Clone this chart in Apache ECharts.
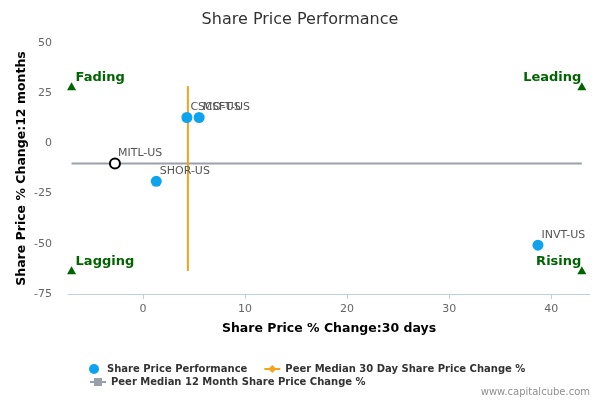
<!DOCTYPE html>
<html>
<head>
<meta charset="utf-8">
<script src="https://cdn.jsdelivr.net/npm/echarts@6/dist/echarts.min.js"></script>
<style>
  html, body { margin: 0; padding: 0; background: #fff; }
  #chart { width: 600px; height: 400px; }
</style>
</head>
<body>
<div id="chart"></div>
<script>
// peers (share price change, %)
var tickers = ['CSCO-US', 'MSFT-US', 'SHOR-US', 'INVT-US'];
var change30d = [4.3, 5.5, 1.3, 38.7];
var change12m = [12.9, 12.9, -18.9, -50.7];

// the company itself
var subjectName = 'MITL-US';
var subject30d = -2.75;
var subject12m = -10;

// peer medians
var median30d = 4.4;
var median30dSpan = [-63.5, 28.5];
var median12m = -10;
var median12mSpan = [-7, 43];

// quadrant markers
var quadrantNames = ['Fading', 'Leading', 'Lagging', 'Rising'];
var quadrantX = [-7, 43, -7, 43];
var quadrantY = [28.4, 28.4, -63.2, -63.2];

var xTicks = [0, 10, 20, 30, 40];

var font = 'DejaVu Sans';
var blue = '#0ea3ee';
var orange = '#f7a21b';
var grey = '#9aa0aa';
var green = '#006400';

var perfData = [];
for (var i = 0; i < tickers.length; i++) {
	perfData.push({ value: [change30d[i], change12m[i]], name: tickers[i] });
}
perfData.push({
	value: [subject30d, subject12m],
	name: subjectName,
	itemStyle: { color: '#fff', borderColor: '#000', borderWidth: 2 },
	symbolSize: 10
});

var quadData = [];
for (var j = 0; j < quadrantNames.length; j++) {
	var onRight = quadrantX[j] > 20;
	quadData.push({
		value: [quadrantX[j], quadrantY[j]],
		name: quadrantNames[j],
		label: {
			position: onRight ? [4, -11] : [8.5, -11],
			align: onRight ? 'right' : 'left'
		}
	});
}

var myChart = echarts.init(document.getElementById('chart'));
var option = {
	animation: false,
	textStyle: { fontFamily: font },
	title: {
		text: 'Share Price Performance',
		left: 'center',
		top: 7,
		textStyle: { fontFamily: font, fontSize: 16, fontWeight: 'normal', color: '#333' }
	},
	legend: [
		{
			data: ['Share Price Performance', 'Peer Median 30 Day Share Price Change %'],
			left: 84, top: 359,
			itemWidth: 16, itemHeight: 10, itemGap: 16,
			textStyle: { fontFamily: font, fontSize: 10, fontWeight: 'bold', color: '#333' }
		},
		{
			data: ['Peer Median 12 Month Share Price Change %'],
			left: 84, top: 372,
			itemWidth: 16, itemHeight: 10,
			textStyle: { fontFamily: font, fontSize: 10, fontWeight: 'bold', color: '#333' }
		}
	],
	grid: { left: 68, right: 10, top: 43, bottom: 106, containLabel: false },
	xAxis: {
		type: 'value',
		min: -7.35,
		max: 43.8,
		name: 'Share Price % Change:30 days',
		nameLocation: 'middle',
		nameGap: 28,
		nameTextStyle: { fontFamily: font, fontSize: 12.5, fontWeight: 'bold', color: '#000' },
		axisLine: { show: true, onZero: false, lineStyle: { color: '#c0d0e0' } },
		axisTick: { show: true, length: 5, customValues: xTicks, lineStyle: { color: '#c0d0e0' } },
		axisLabel: { customValues: xTicks, color: '#666', fontSize: 11, margin: 10 },
		splitLine: { show: false }
	},
	yAxis: {
		type: 'value',
		min: -75,
		max: 50,
		interval: 25,
		name: 'Share Price % Change:12 months',
		nameLocation: 'middle',
		nameGap: 40,
		nameMoveOverlap: false,
		nameTextStyle: { fontFamily: font, fontSize: 12.5, fontWeight: 'bold', color: '#000' },
		axisLine: { show: false },
		axisTick: { show: false },
		axisLabel: { color: '#666', fontSize: 11, margin: 16 },
		splitLine: { show: false }
	},
	series: [
		{
			name: 'Peer Median 12 Month Share Price Change %',
			type: 'line',
			symbol: 'rect',
			showSymbol: false,
			itemStyle: { color: grey },
			lineStyle: { color: grey, width: 2 },
			data: [[median12mSpan[0], median12m], [median12mSpan[1], median12m]],
			z: 1
		},
		{
			name: 'Peer Median 30 Day Share Price Change %',
			type: 'line',
			symbol: 'diamond',
			showSymbol: false,
			itemStyle: { color: orange },
			lineStyle: { color: orange, width: 2 },
			data: [[median30d, median30dSpan[0]], [median30d, median30dSpan[1]]],
			z: 1
		},
		{
			name: 'Share Price Performance',
			type: 'scatter',
			symbol: 'circle',
			symbolSize: 11,
			itemStyle: { color: blue, opacity: 1 },
			label: {
				show: true,
				formatter: '{b}',
				position: [9, -10],
				color: '#555',
				fontSize: 11,
				fontFamily: font
			},
			data: perfData,
			z: 3
		},
		{
			name: 'quadrants',
			type: 'scatter',
			symbol: 'triangle',
			symbolSize: [9, 8],
			itemStyle: { color: green, opacity: 1 },
			label: {
				show: true,
				formatter: '{b}',
				color: green,
				fontSize: 13,
				fontWeight: 'bold',
				fontFamily: font
			},
			data: quadData,
			z: 2
		}
	],
	graphic: [
		{
			type: 'text',
			right: 10,
			bottom: 3,
			style: { text: 'www.capitalcube.com', fill: '#909090', font: '10px "DejaVu Sans"' }
		}
	]
};
myChart.setOption(option);
</script>
</body>
</html>
